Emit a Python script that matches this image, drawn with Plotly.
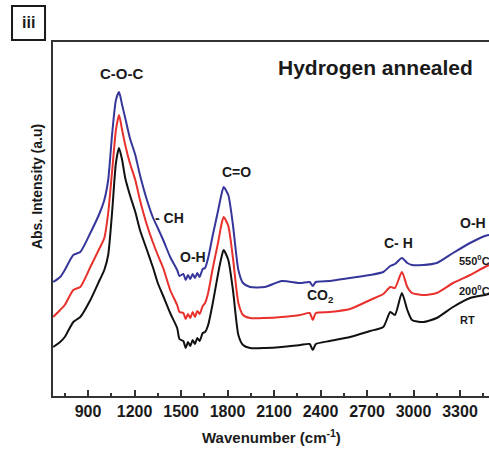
import plotly.graph_objects as go

# Wavenumber grid (cm^-1)
wavenumber = [675, 720, 750, 805, 850, 915, 975, 1005, 1030, 1055,
              1080, 1100, 1120, 1140, 1170, 1205, 1235, 1280, 1320, 1350,
              1385, 1430, 1475, 1490, 1515, 1530, 1545, 1560, 1575, 1590,
              1605, 1620, 1640, 1655, 1675, 1705, 1740,
              1760, 1775, 1805, 1835, 1870, 1900, 1945, 2040, 2150, 2270,
              2330, 2350, 2370, 2460, 2590, 2720, 2805, 2850, 2880, 2925,
              2960, 2990, 3060, 3150, 3255, 3365, 3460, 3490]

# Absorbance (arbitrary units, stacked as in the figure)
abs_550C = [114, 119, 126, 141, 144, 163, 183, 196, 216, 261,
            296, 304, 291, 278, 258, 241, 221, 196, 178, 168,
            156, 139, 126, 120, 122, 116, 121, 117, 122, 118,
            123, 119, 127, 128, 138, 161, 186,
            201, 209, 201, 171, 126, 113, 109, 109, 115, 113,
            114, 110, 114, 115, 118, 121, 124, 130, 132, 138,
            133, 131, 131, 133, 143, 153, 160, 161]
abs_200C = [79, 86, 91, 106, 109, 129, 148, 158, 183, 224,
            266, 281, 266, 251, 233, 216, 196, 171, 153, 141,
            128, 106, 91, 84, 83, 77, 82, 78, 84, 79,
            85, 82, 90, 93, 103, 128, 154,
            171, 179, 170, 138, 93, 81, 78, 78, 79, 81,
            83, 76, 83, 84, 87, 96, 102, 109, 108, 124,
            109, 103, 101, 103, 113, 121, 129, 131]
abs_RT = [49, 54, 59, 74, 79, 96, 116, 126, 141, 183,
          233, 248, 236, 218, 201, 184, 166, 146, 128, 113,
          100, 83, 68, 57, 55, 48, 54, 50, 56, 52,
          58, 55, 63, 64, 71, 93, 123,
          138, 146, 136, 106, 61, 51, 48, 48, 49, 51,
          52, 46, 52, 55, 59, 65, 69, 84, 81, 103,
          86, 76, 74, 78, 89, 98, 101, 102]

x_ticks = [900, 1200, 1500, 1800, 2100, 2400, 2700, 3000, 3300]

FONT = "Liberation Sans, Arial, sans-serif"
TXT = "#1a1a1a"

fig = go.Figure()
for y, col, name in [(abs_RT, "#111111", "RT"),
                     (abs_200C, "#e8302c", "200C"),
                     (abs_550C, "#36369a", "550C")]:
    fig.add_trace(go.Scatter(x=wavenumber, y=y, mode="lines", name=name,
                             line=dict(color=col, width=2, shape="spline", smoothing=0.6),
                             showlegend=False))

def lab(x, y, text, size=14, xanchor="center"):
    fig.add_annotation(x=x, y=y, text=text, showarrow=False,
                       xref="x", yref="y",
                       xanchor=xanchor, yanchor="middle",
                       font=dict(family=FONT, size=size, color=TXT, weight="bold"))

lab(1113, 323, "C-O-C", 15)
lab(2752, 329, "Hydrogen annealed", 21)
lab(1423, 178, "- CH", 14)
lab(1577, 139, "O-H", 14)
lab(1855, 224, "C=O", 14)
lab(2403, 100, "CO<sub>2</sub>", 14)
lab(2906, 153, "C- H", 14)
lab(3384, 173, "O-H", 14)
lab(3278, 136, "550<sup>0</sup>C", 11, "left")
lab(3278, 106, "200<sup>0</sup>C", 11, "left")
lab(3290, 76, "RT", 11, "left")

# axis titles
fig.add_annotation(x=0.5, y=-0.1158, xref="paper", yref="paper", showarrow=False,
                   text="Wavenumber (cm<sup>-1</sup>)", xanchor="center", yanchor="middle",
                   font=dict(family=FONT, size=15, color=TXT, weight="bold"))
fig.add_annotation(x=-0.0367, y=0.593, xref="paper", yref="paper", showarrow=False,
                   text="Abs. Intensity (a.u)", textangle=-90, xanchor="center", yanchor="middle",
                   font=dict(family=FONT, size=14, color=TXT, weight="bold"))

# panel label box
fig.add_shape(type="rect", xref="paper", yref="paper",
              x0=-0.094, x1=-0.0183, y0=1.0056, y1=1.1017,
              line=dict(color="#1a1a1a", width=2))
fig.add_annotation(x=-0.0562, y=1.0537, xref="paper", yref="paper", showarrow=False,
                   text="iii", xanchor="center", yanchor="middle",
                   font=dict(family=FONT, size=16, color=TXT, weight="bold"))

fig.update_layout(
    width=489, height=455,
    margin=dict(l=53, r=0, t=42, b=59),
    paper_bgcolor="white", plot_bgcolor="white",
    xaxis=dict(range=[674, 3487], tickvals=x_ticks, ticks="inside", ticklen=6,
               tickwidth=1.5, tickcolor="#333", showline=True, linewidth=2,
               linecolor="#333", mirror=True, showgrid=False, zeroline=False,
               tickfont=dict(family=FONT, size=16, color=TXT, weight="bold"),
               minor=dict(dtick=150, tick0=750, ticks="inside", ticklen=3,
                          tickwidth=1.5, tickcolor="#333")),
    yaxis=dict(range=[0, 354], showticklabels=False, ticks="", showline=True,
               linewidth=2, linecolor="#333", mirror=False, showgrid=False,
               zeroline=False),
)

fig.write_html("out.html")
